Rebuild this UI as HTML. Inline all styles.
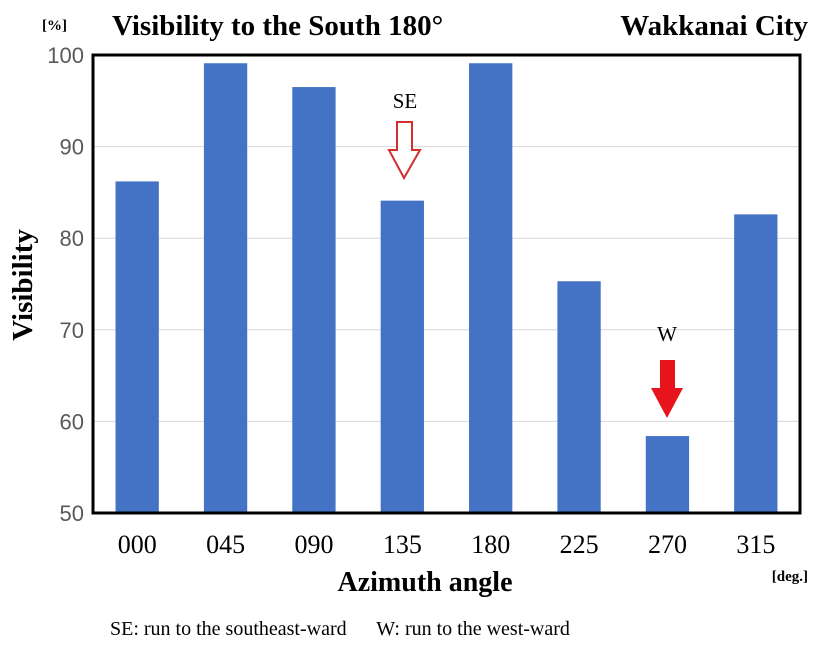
<!DOCTYPE html>
<html><head><meta charset="utf-8"><style>
html,body{margin:0;padding:0;background:#fff;width:827px;height:649px;overflow:hidden}
svg text{font-family:"Liberation Serif",serif}
</style></head><body>
<svg id="chart" width="827" height="649" xmlns="http://www.w3.org/2000/svg">
<text x="112" y="35" font-size="29" font-weight="bold">Visibility to the South 180°</text>
<text x="808" y="35" text-anchor="end" font-size="29" font-weight="bold">Wakkanai City</text>
<text x="42" y="30" font-size="15" font-weight="bold">[%]</text>
<text transform="translate(32,285) rotate(-90)" text-anchor="middle" font-size="29" font-weight="bold">Visibility</text>
<g id="grid"></g>
<g id="bars"></g>
<rect x="93" y="55" width="707" height="458" fill="none" stroke="#000" stroke-width="3"/>
<g id="yticks"></g>
<g id="xticks"></g>
<text x="405" y="108" text-anchor="middle" font-size="21">SE</text>
<path d="M397,122 L412,122 L412,150 L420,150 L404,178 L389,150 L397,150 Z" fill="#fff" stroke="#d32f2f" stroke-width="2"/>
<text x="667" y="341" text-anchor="middle" font-size="21">W</text>
<path d="M660,360 L675,360 L675,388 L683,388 L667,418 L651,388 L660,388 Z" fill="#e8141c"/>
<text x="425" y="591" text-anchor="middle" font-size="28" font-weight="bold">Azimuth angle</text>
<text x="808" y="581" text-anchor="end" font-size="15" font-weight="bold">[deg.]</text>
<text x="110" y="635" font-size="20" xml:space="preserve">SE: run to the southeast-ward      W: run to the west-ward</text>
</svg>
<script>
const categories = ["000","045","090","135","180","225","270","315"];
const visibility = [86.2, 99.1, 96.5, 84.1, 99.1, 75.3, 58.4, 82.6];
const yTicks = [50, 60, 70, 80, 90, 100];
const NS = "http://www.w3.org/2000/svg";
const plotLeft = 93, plotRight = 800, plotTop = 55, plotBottom = 513, yMin = 50, yMax = 100;
const slot = (plotRight - plotLeft) / categories.length;
function xCenter(i){ return plotLeft + slot * (i + 0.5); }
function yScale(v){ return plotBottom - (v - yMin) / (yMax - yMin) * (plotBottom - plotTop); }
const grid = document.getElementById("grid"), yt = document.getElementById("yticks");
yTicks.forEach(t => {
  const y = yScale(t);
  if (t > yMin && t < yMax) {
    const l = document.createElementNS(NS, "line");
    l.setAttribute("x1", plotLeft); l.setAttribute("x2", plotRight);
    l.setAttribute("y1", y); l.setAttribute("y2", y);
    l.setAttribute("stroke", "#d9d9d9"); l.setAttribute("stroke-width", "1");
    
    
    grid.appendChild(l);
  }
  const tx = document.createElementNS(NS, "text");
  tx.setAttribute("x", 84); tx.setAttribute("y", y + 8);
  tx.setAttribute("text-anchor", "end");
  tx.setAttribute("font-size", "22");
  tx.setAttribute("fill", "#595959");
  tx.setAttribute("style", "font-family:'Liberation Sans',sans-serif");
  tx.textContent = t;
  
  
  yt.appendChild(tx);
});
const bars = document.getElementById("bars"), xt = document.getElementById("xticks");
const bw = slot * 0.49;
categories.forEach((c, i) => {
  const r = document.createElementNS(NS, "rect");
  const y = yScale(visibility[i]);
  r.setAttribute("x", xCenter(i) - bw / 2); r.setAttribute("y", y);
  r.setAttribute("width", bw); r.setAttribute("height", plotBottom - y);
  r.setAttribute("fill", "#4472c4");
  
  
  bars.appendChild(r);
  const tx = document.createElementNS(NS, "text");
  tx.setAttribute("x", xCenter(i)); tx.setAttribute("y", 553);
  tx.setAttribute("text-anchor", "middle");
  tx.setAttribute("font-size", "26");
  tx.textContent = c;
  
  
  xt.appendChild(tx);
});
</script>
</body></html>
